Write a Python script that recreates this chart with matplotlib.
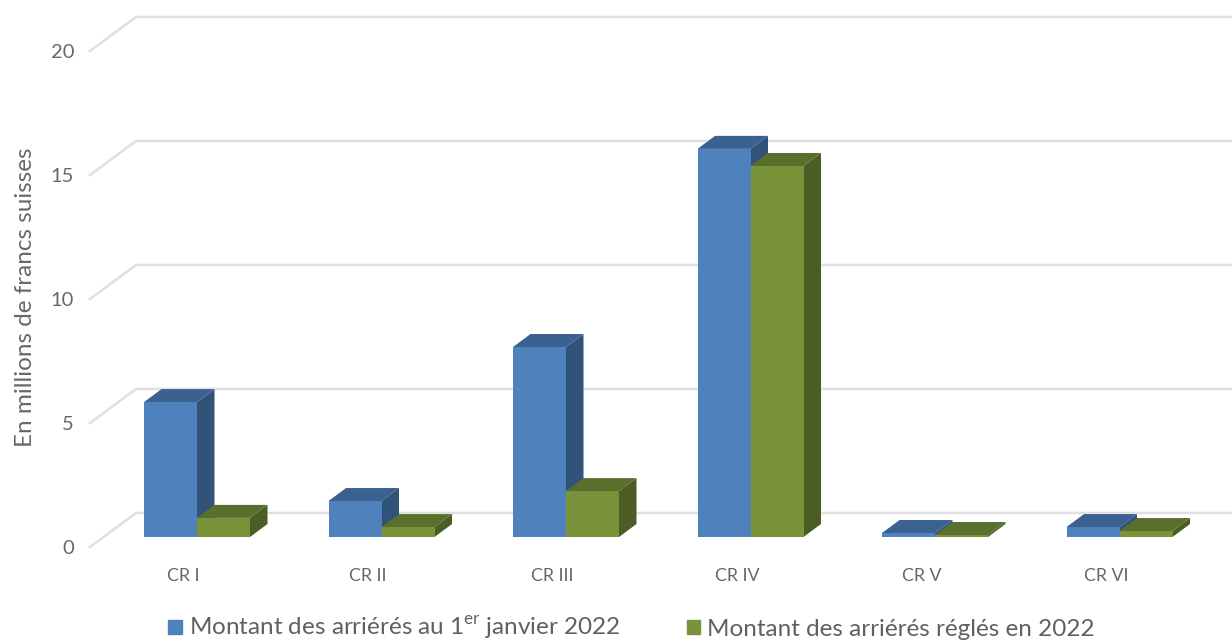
import matplotlib

matplotlib.use("Agg")
import matplotlib.pyplot as plt
from matplotlib.patches import Patch, Polygon

categories = ["CR I", "CR II", "CR III", "CR IV", "CR V", "CR VI"]
arrears_start = [5.44, 1.45, 7.66, 15.65, 0.16, 0.40]
arrears_paid = [0.77, 0.40, 1.85, 14.96, 0.08, 0.24]
y_ticks = [0, 5, 10, 15, 20]

BLUE = ("#4f81bd", "#3a6190", "#325379")
GREEN = ("#78933a", "#5a6f2c", "#4b5d24")
GRID = "#e0e0e0"
TEXT = "#686868"

# pixel scales of the picture
W, H = 1232, 642
PX_X = 184.5  # px per category
PX_Y = 24.8  # px per franc unit
X0, Y0 = 197, 537  # px of the first category at value 0


def dx(px):
    return px / PX_X


def dy(px):
    return px / PX_Y


plt.rcParams["font.family"] = ["Lato", "DejaVu Sans"]

fig = plt.figure(figsize=(W / 100, H / 100), dpi=100)
ax = fig.add_axes([0, 0, 1, 1])
ax.set_xlim(-X0 / PX_X, (W - X0) / PX_X)
ax.set_ylim(-(H - Y0) / PX_Y, Y0 / PX_Y)
ax.axis("off")

# --- back wall grid + floor/side lines ---
left_front = dx(90 - X0)
left_back = dx(136 - X0)
for v in y_ticks:
    yf = v + dy(-10)
    yb = v + dy(24)
    ax.plot([left_front, left_back, ax.get_xlim()[1]], [yf, yb, yb], color=GRID, lw=1.8, zorder=1,
            solid_joinstyle="miter")
    ax.text(dx(74 - X0), yf + dy(-1), str(v), ha="right", va="center", color=TEXT, fontsize=14.5)

# --- bars ---
bar_w = dx(53)
depth_x, depth_y = dx(17.5), dy(13)


def draw_bars(xs, values, colors, z):
    ax.bar(xs, values, width=bar_w, align="edge", color=colors[0], linewidth=0, zorder=z + 1)
    for x, v in zip(xs, values):
        right = x + bar_w
        side = [(right, 0), (right + depth_x, depth_y), (right + depth_x, v + depth_y), (right, v)]
        top = [(x, v), (x + depth_x, v + depth_y), (right + depth_x, v + depth_y), (right, v)]
        ax.add_patch(Polygon(side, closed=True, fc=colors[2], ec="none", zorder=z))
        ax.add_patch(Polygon(top, closed=True, fc=colors[1], ec="none", zorder=z))


idx = list(range(len(categories)))
draw_bars([i - bar_w for i in idx], arrears_start, BLUE, 2)
draw_bars(idx, arrears_paid, GREEN, 4)

for i, name in zip(idx, categories):
    ax.text(i + dx(-13.5), dy(-39), name, ha="center", va="center", color=TEXT, fontsize=12.8)

ax.text(dx(26 - X0), dy(Y0 - 297), "En millions de francs suisses", rotation=90, ha="center", va="center",
        color=TEXT, fontsize=17.5)

handles = [Patch(color=BLUE[0]), Patch(color=GREEN[0])]
labels = ["Montant des arriérés au 1$^{\\mathregular{er}}$ janvier 2022", "Montant des arriérés réglés en 2022"]
ax.legend(handles, labels, loc="center", bbox_to_anchor=(631.5 / W, 1 - 628.5 / H), ncol=2, frameon=False,
          fontsize=17.5, labelcolor="#606060", handlelength=0.55, handleheight=0.55, handletextpad=0.29,
          columnspacing=2.75, borderpad=0, borderaxespad=0)

fig.savefig("out.png", dpi=100)
